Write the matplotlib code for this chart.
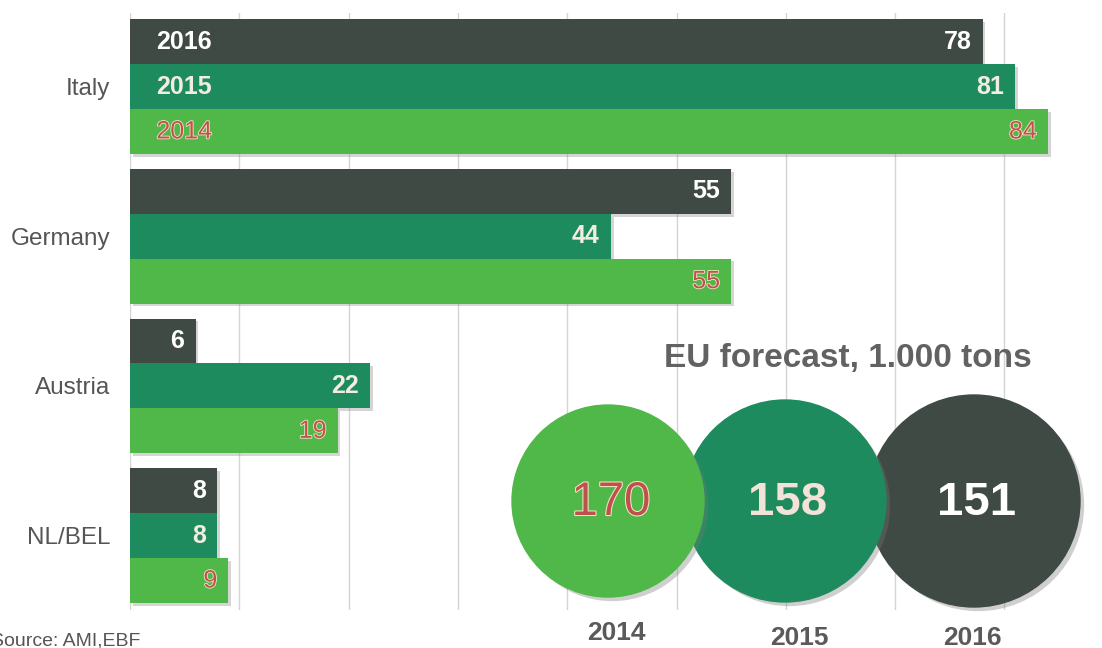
import matplotlib
matplotlib.use("Agg")
import matplotlib.pyplot as plt
import matplotlib.patches as mpatches
import matplotlib.patheffects as pe
import numpy as np

# ---- data (1.000 tons) ----
countries = ["Italy", "Germany", "Austria", "NL/BEL"]
years = ["2016", "2015", "2014"]
values_2016 = [78, 55, 6, 8]
values_2015 = [81, 44, 22, 8]
values_2014 = [84, 55, 19, 9]
eu_years = ["2014", "2015", "2016"]
eu_totals = [170, 158, 151]
source_text = "Source: AMI,EBF"
title_text = "EU forecast, 1.000 tons"

# ---- style ----
C16, C15, C14 = "#3f4a44", "#1e8b5f", "#4fb848"
TXT16, TXT15, TXT14 = "#ffffff", "#f3ece0", "#c0504d"
GLOW = "#f1e6c4"
W, H = 1102, 648

plt.rcParams["font.family"] = ["Liberation Sans", "DejaVu Sans"]

fig = plt.figure(figsize=(W / 100, H / 100), dpi=100)
fig.patch.set_facecolor("white")

# main bar axes
left, right, top, bottom = 130, 1102, 13, 610
ax = fig.add_axes([left / W, 1 - bottom / H, (right - left) / W, (bottom - top) / H])
scale = 10.93  # pixels per unit
ax.set_xlim(0, (right - left) / scale)
ax.set_ylim(3.497, -0.491)

ax.set_xticks(np.arange(0, 90, 10))
ax.xaxis.grid(True, color="#d4d4d4", linewidth=1.0)
ax.set_axisbelow(True)
ax.tick_params(axis="x", length=0, labelbottom=False)
for s in ax.spines.values():
    s.set_visible(False)

bar_h = 0.3
y = np.arange(len(countries))
series = [
    (values_2016, C16, TXT16, "bold", -bar_h),
    (values_2015, C15, TXT15, "bold", 0.0),
    (values_2014, C14, TXT14, "normal", bar_h),
]
shadow = [pe.SimplePatchShadow(offset=(2, -2), shadow_rgbFace="#888888", alpha=0.35), pe.Normal()]
glow = [pe.withStroke(linewidth=1.2, foreground=GLOW)]

for (vals, col, tcol, wt, off), yr in zip(series, years):
    bars = ax.barh(y + off, vals, height=bar_h, color=col, zorder=2)
    for b in bars:
        b.set_path_effects(shadow)
    for v, yy in zip(vals, y + off):
        ax.annotate(str(v), xy=(v, yy), xytext=(-8, 0), textcoords="offset points",
                    ha="right", va="center", fontsize=18, fontweight=wt, color=tcol,
                    zorder=4, path_effects=glow if wt == "normal" else None)
    # year label inside the first group's bar
    ax.annotate(yr, xy=(0, y[0] + off), xytext=(19, 0), textcoords="offset points",
                ha="left", va="center", fontsize=18, fontweight=wt, color=tcol,
                zorder=4, path_effects=glow if wt == "normal" else None)

ax.set_yticks(y)
ax.set_yticklabels(countries, fontsize=17.5, color="#555555")
ax.tick_params(axis="y", length=0, pad=14)

# EU forecast bubbles (overlay in pixel space)
ov = fig.add_axes([0, 0, 1, 1], zorder=5)
ov.set_xlim(0, W)
ov.set_ylim(H, 0)
ov.axis("off")
ov.patch.set_alpha(0)

bubble_x = [608, 785, 974]
bubble_r = [96, 101, 106]
bubble_y = 501
bubble_col = [C14, C15, C16]
bubble_txt = [TXT14, "#f2e2d8", TXT16]
bubble_wt = ["normal", "bold", "bold"]
circ_shadow = [pe.SimplePatchShadow(offset=(3, -3), shadow_rgbFace="#777777", alpha=0.35), pe.Normal()]
# back to front: 2016, 2015, 2014
for i in reversed(range(len(eu_totals))):
    c = mpatches.Circle((bubble_x[i], bubble_y), bubble_r[i], color=bubble_col[i], zorder=2 + (3 - i))
    c.set_path_effects(circ_shadow)
    ov.add_patch(c)
    ov.text(bubble_x[i] + 3, bubble_y + 2, str(eu_totals[i]), ha="center", va="center",
            fontsize=34, fontweight=bubble_wt[i], color=bubble_txt[i], zorder=10,
            path_effects=[pe.withStroke(linewidth=1.5, foreground=GLOW)] if bubble_wt[i] == "normal" else None)

year_x = [616, 799, 972]
year_y = [633, 638, 638]
for yr, xx, yy in zip(eu_years, year_x, year_y):
    ov.text(xx, yy, yr, ha="center", va="center", fontsize=19, fontweight="bold",
            color="#5a5a5a", zorder=10)

ov.text(848, 359, title_text, ha="center", va="center", fontsize=24,
        fontweight="bold", color="#626262", zorder=10)
ov.text(140, 641, source_text, ha="right", va="center", fontsize=14,
        color="#555555", zorder=10)

fig.savefig("out.png", dpi=100)
